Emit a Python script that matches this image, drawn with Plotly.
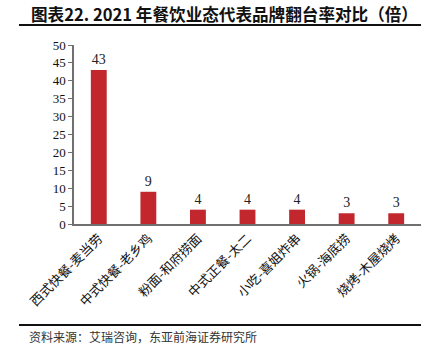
import plotly.graph_objects as go

categories = ["西式快餐-麦当劳", "中式快餐-老乡鸡", "粉面-和府捞面", "中式正餐-太二",
              "小吃-喜姐炸串", "火锅-海底捞", "烧烤-木屋烧烤"]
values = [43, 9, 4, 4, 4, 3, 3]
y_ticks = [0, 5, 10, 15, 20, 25, 30, 35, 40, 45, 50]

W, H = 434, 357
L, R, T, B = 74, 13, 45, 133
PW, PH = W - L - R, H - T - B


def px(x):
    return (x - L) / PW


def py(y):
    return 1 - (y - T) / PH


fig = go.Figure()
fig.add_trace(go.Bar(
    x=categories, y=values,
    marker=dict(color="#C1272D", line=dict(width=0)),
    text=[str(v) for v in values], textposition="outside",
    textfont=dict(family="Liberation Serif", size=14, color="#222"),
    cliponaxis=False, width=0.32, hoverinfo="skip",
))

fig.update_layout(
    width=W, height=H,
    margin=dict(l=L, r=R, t=T, b=B),
    paper_bgcolor="white", plot_bgcolor="white",
    showlegend=False,
    xaxis=dict(
        tickangle=-45, showline=True, linecolor="#707070", linewidth=1.5,
        ticks="", tickfont=dict(family="Noto Sans CJK SC", size=13, color="#111"),
        showgrid=False,
    ),
    yaxis=dict(
        range=[0, 50], tickvals=y_ticks, showline=True, linecolor="#707070", linewidth=1.5,
        ticks="outside", ticklen=4, tickcolor="#707070",
        tickfont=dict(family="Liberation Serif", size=13, color="#111"),
        showgrid=False, zeroline=False,
    ),
)

fig.add_annotation(text="<b>图表22. 2021 年餐饮业态代表品牌翻台率对比（倍）</b>",
                   xref="paper", yref="paper", x=px(30), y=py(14),
                   xanchor="left", yanchor="middle", showarrow=False, borderpad=0,
                   font=dict(family="Noto Sans CJK SC", size=16.6, color="#111"))
fig.add_shape(type="line", xref="paper", yref="paper",
              x0=px(19), x1=px(421), y0=py(25), y1=py(25),
              line=dict(color="#111", width=2))
fig.add_shape(type="line", xref="paper", yref="paper",
              x0=px(19), x1=px(421), y0=py(325), y1=py(325),
              line=dict(color="#111", width=2))
fig.add_annotation(text="资料来源：艾瑞咨询，东亚前海证券研究所",
                   xref="paper", yref="paper", x=px(27), y=py(336),
                   xanchor="left", yanchor="middle", showarrow=False,
                   font=dict(family="Noto Sans CJK SC", size=12, color="#333"))

fig.write_html("out.html", config={"displayModeBar": False},
               post_script="document.body.style.margin='0';document.body.style.overflow='hidden';")
